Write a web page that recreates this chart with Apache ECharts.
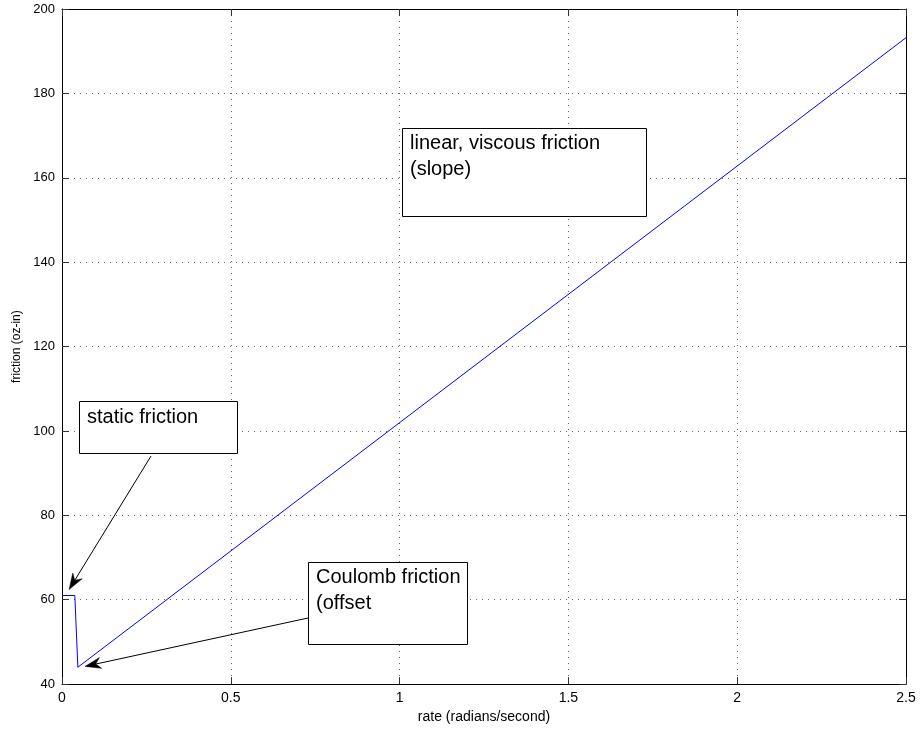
<!DOCTYPE html>
<html>
<head>
<meta charset="utf-8">
<script src="https://cdn.jsdelivr.net/npm/echarts@6/dist/echarts.min.js"></script>
<style>
html,body{margin:0;padding:0;background:#fff;}
#c{width:920px;height:729px;}
</style>
</head>
<body>
<div id="c"></div>
<script>
// ---- data ----
const rate = [0, 0.038, 0.047, 2.5];
const friction = [61, 61, 44, 193.2];
const xTicks = [0, 0.5, 1, 1.5, 2, 2.5];
const yTicks = [40, 60, 80, 100, 120, 140, 160, 180, 200];
const xName = 'rate (radians/second)';
const yName = 'friction (oz-in)';
const notes = ['static friction', 'Coulomb friction\n(offset', 'linear, viscous friction\n(slope)'];
// arrow tips in data coordinates
const staticTip = [0.021, 62.4];
const coulombTip = [0.068, 44.2];

const FONT = '"Liberation Sans", Arial, Helvetica, sans-serif';
const chart = echarts.init(document.getElementById('c'), null, {renderer: 'canvas'});

const axisCommon = {
  axisLine: {show: true, onZero: false, lineStyle: {color: '#000', width: 1}},
  axisTick: {show: true, inside: true, length: 7, lineStyle: {color: '#333'}},
};

chart.setOption({
  animation: false,
  backgroundColor: '#fff',
  grid: {left: 62, right: 14, top: 9, bottom: 42, containLabel: false},
  xAxis: [{
    type: 'value', min: xTicks[0], max: xTicks[xTicks.length - 1], interval: 0.5,
    position: 'bottom',
    ...axisCommon,
    axisLabel: {color: '#000', fontSize: 14, fontFamily: FONT, margin: 7,
      formatter: v => String(v)},
    splitLine: {show: true, lineStyle: {color: '#666', type: [1, 5], width: 1}},
    name: xName, nameLocation: 'middle', nameGap: 23,
    nameTextStyle: {color: '#000', fontSize: 14, fontFamily: FONT}
  }, {
    type: 'value', min: xTicks[0], max: xTicks[xTicks.length - 1], interval: 0.5,
    position: 'top',
    ...axisCommon,
    axisLabel: {show: false}, splitLine: {show: false}
  }],
  yAxis: [{
    type: 'value', min: yTicks[0], max: yTicks[yTicks.length - 1], interval: 20,
    position: 'left',
    ...axisCommon,
    axisLabel: {color: '#000', fontSize: 13, fontFamily: FONT, margin: 7},
    splitLine: {show: true, lineStyle: {color: '#666', type: [1, 5], width: 1}},
    name: yName, nameLocation: 'middle', nameGap: 38,
    nameTextStyle: {color: '#000', fontSize: 12, fontFamily: FONT}
  }, {
    type: 'value', min: yTicks[0], max: yTicks[yTicks.length - 1], interval: 20,
    position: 'right',
    ...axisCommon,
    axisLabel: {show: false}, splitLine: {show: false}
  }],
  series: [{
    type: 'line',
    data: rate.map((x, i) => [x, friction[i]]),
    showSymbol: false, symbol: 'none',
    lineStyle: {color: '#0000ff', width: 1},
    z: 3
  }]
});

// ---- annotations ----
function box(x, y, w, h, text, tx, ty) {
  return [{
    type: 'rect', shape: {x: x + 0.5, y: y + 0.5, width: w, height: h},
    style: {fill: '#fff', stroke: '#000', lineWidth: 1}, z: 10
  }, {
    type: 'text', x: tx, y: ty,
    style: {text: text, fill: '#000', font: '20px ' + FONT, lineHeight: 26,
      textVerticalAlign: 'top', textAlign: 'left'}, z: 11
  }];
}
function arrow(tail, tip) {
  const dx = tip[0] - tail[0], dy = tip[1] - tail[1];
  const L = Math.hypot(dx, dy), ux = dx / L, uy = dy / L;
  const px = -uy, py = ux;
  const len = 16, half = 5.5, notch = 11;
  const b = [tip[0] - ux * len, tip[1] - uy * len];
  const n = [tip[0] - ux * notch, tip[1] - uy * notch];
  return [{
    type: 'line', shape: {x1: tail[0], y1: tail[1], x2: n[0], y2: n[1]},
    style: {stroke: '#000', lineWidth: 1}, z: 12
  }, {
    type: 'polygon',
    shape: {points: [tip, [b[0] + px * half, b[1] + py * half], n, [b[0] - px * half, b[1] - py * half]]},
    style: {fill: '#000', stroke: '#000', lineWidth: 0.5}, z: 12
  }];
}
const sTip = chart.convertToPixel({xAxisIndex: 0, yAxisIndex: 0}, staticTip);
const cTip = chart.convertToPixel({xAxisIndex: 0, yAxisIndex: 0}, coulombTip);

chart.setOption({
  graphic: [
    ...box(79, 401, 158, 52, notes[0], 87, 404),
    ...box(308, 562, 159, 82, notes[1], 316, 564),
    ...box(402, 128, 244, 88, notes[2], 410, 130),
    ...arrow([151, 456], sTip),
    ...arrow([308, 618], cTip)
  ]
});
</script>
</body>
</html>
